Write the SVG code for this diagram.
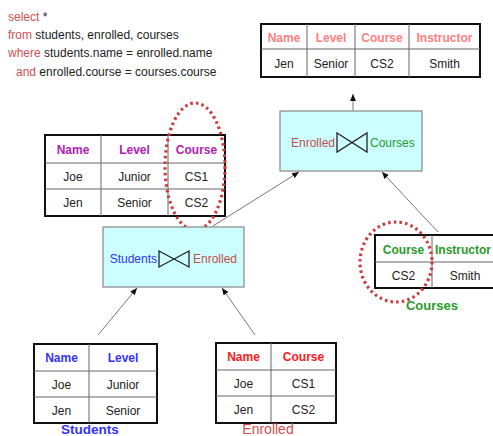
<svg xmlns="http://www.w3.org/2000/svg" width="493" height="436" viewBox="0 0 493 436">
<style>
text{font-family:"Liberation Sans",Arial,sans-serif;font-size:12px;fill:#222}
.h{font-weight:bold;text-anchor:middle}
.d{text-anchor:middle}
.kw{fill:#d05050}
.tb{fill:#fff;stroke:#111;stroke-width:2}
.gl{stroke:#666;stroke-width:1;fill:none}
.box{fill:#ccffff;stroke:#888;stroke-width:1.2}
.bow{fill:none;stroke:#222;stroke-width:1.3;stroke-linejoin:miter}
.dot{fill:none;stroke:#cc3b3b;stroke-width:3.2;stroke-dasharray:2.5 3.2}
.con{stroke:#777;stroke-width:1;fill:none;marker-end:url(#ah)}
</style>
<defs>
<marker id="ah" markerWidth="8" markerHeight="8" refX="7" refY="4" orient="auto" markerUnits="userSpaceOnUse">
<path d="M0,1 L7,4 L0,7 Z" fill="#111"/>
</marker>
</defs>
<g id="sql">
<text x="8" y="21"><tspan class="kw">select</tspan> *</text>
<text x="8" y="39"><tspan class="kw">from</tspan> students, enrolled, courses</text>
<text x="8" y="57"><tspan class="kw">where</tspan> students.name = enrolled.name</text>
<text x="16" y="76"><tspan class="kw">and</tspan> enrolled.course = courses.course</text>
</g>
<g id="connectors">
<line class="con" x1="98" y1="335" x2="137" y2="288"/>
<line class="con" x1="255" y1="335" x2="222" y2="288"/>
<line class="con" x1="213" y1="226" x2="299" y2="172"/>
<line class="con" x1="438" y1="232" x2="382" y2="172"/>
<line class="con" x1="353" y1="111" x2="353" y2="94"/>
</g>
<g id="result">
<rect class="tb" x="261" y="24" width="219" height="53"/>
<path class="gl" d="M261,49H480M307,24V77M355,24V77M409,24V77"/>
<text class="h" x="284" y="42" style="fill:#ff8080">Name</text>
<text class="h" x="331" y="42" style="fill:#ff8080">Level</text>
<text class="h" x="382" y="42" style="fill:#ff8080">Course</text>
<text class="h" x="444.5" y="42" style="fill:#ff8080">Instructor</text>
<text class="d" x="284" y="68">Jen</text>
<text class="d" x="331" y="68">Senior</text>
<text class="d" x="382" y="68">CS2</text>
<text class="d" x="444.5" y="68">Smith</text>
</g>
<g id="join-ec">
<rect class="box" x="280" y="111" width="142" height="60"/>
<text x="335" y="147" style="text-anchor:end;fill:#c0504d">Enrolled</text>
<path class="bow" d="M337,133L367,152L367,133L337,152Z"/>
<text x="370" y="147" style="fill:#2a9a2a">Courses</text>
</g>
<g id="intermediate">
<rect class="tb" x="45" y="135" width="180" height="81"/>
<path class="gl" d="M45,163H225M45,189H225M101,135V216M168,135V216"/>
<text class="h" x="73" y="154" style="fill:#b020b0">Name</text>
<text class="h" x="134.5" y="154" style="fill:#b020b0">Level</text>
<text class="h" x="196.5" y="154" style="fill:#b020b0">Course</text>
<text class="d" x="73" y="181">Joe</text>
<text class="d" x="134.5" y="181">Junior</text>
<text class="d" x="196.5" y="181">CS1</text>
<text class="d" x="73" y="207">Jen</text>
<text class="d" x="134.5" y="207">Senior</text>
<text class="d" x="196.5" y="207">CS2</text>
<ellipse class="dot" cx="195" cy="166.5" rx="30" ry="63.5"/>
</g>
<g id="join-se">
<rect class="box" x="103" y="227" width="141" height="60"/>
<text x="157" y="263" style="text-anchor:end;fill:#3333ff">Students</text>
<path class="bow" d="M159,251L189,267L189,251L159,267Z"/>
<text x="193" y="263" style="fill:#c0504d">Enrolled</text>
</g>
<g id="courses">
<rect class="tb" x="375" y="235" width="130" height="53"/>
<path class="gl" d="M375,262H505M432,235V288"/>
<text class="h" x="403.5" y="254" style="fill:#2a9a2a">Course</text>
<text class="h" x="463" y="254" style="fill:#2a9a2a">Instructor</text>
<text class="d" x="403.5" y="280">CS2</text>
<text class="d" x="465" y="280">Smith</text>
<ellipse class="dot" cx="396" cy="262" rx="36" ry="40"/>
<text x="432" y="310" style="font-weight:bold;font-size:13px;text-anchor:middle;fill:#2a9a2a">Courses</text>
</g>
<g id="students">
<rect class="tb" x="34" y="344" width="123" height="79"/>
<path class="gl" d="M34,371H157M34,397H157M89,344V423"/>
<text class="h" x="61.5" y="362" style="fill:#3333ff">Name</text>
<text class="h" x="123" y="362" style="fill:#3333ff">Level</text>
<text class="d" x="61.5" y="389">Joe</text>
<text class="d" x="123" y="389">Junior</text>
<text class="d" x="61.5" y="415">Jen</text>
<text class="d" x="123" y="415">Senior</text>
<text x="90" y="434" style="font-weight:bold;font-size:13.5px;text-anchor:middle;fill:#3333ff">Students</text>
</g>
<g id="enrolled">
<rect class="tb" x="216" y="343" width="120" height="80"/>
<path class="gl" d="M216,370H336M216,396H336M271,343V423"/>
<text class="h" x="243.5" y="361" style="fill:#ff1a1a">Name</text>
<text class="h" x="303.5" y="361" style="fill:#ff1a1a">Course</text>
<text class="d" x="243.5" y="388">Joe</text>
<text class="d" x="303.5" y="388">CS1</text>
<text class="d" x="243.5" y="414">Jen</text>
<text class="d" x="303.5" y="414">CS2</text>
<text x="268" y="434" style="font-size:14px;text-anchor:middle;fill:#d05050">Enrolled</text>
</g>
</svg>
